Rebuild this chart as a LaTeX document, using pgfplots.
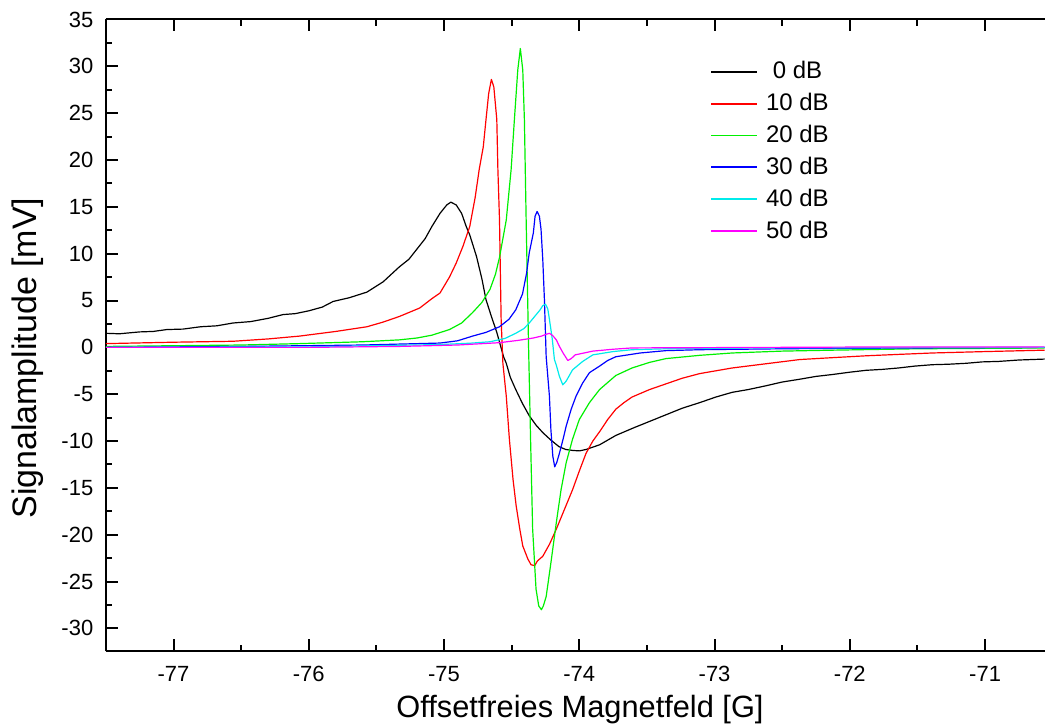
\documentclass[border=0pt]{standalone}
\usepackage{fontspec}
\setmainfont{Liberation Sans}
\usepackage{pgfplots}
\pgfplotsset{compat=1.18}
\definecolor{cBlack}{RGB}{0,0,0}
\definecolor{cRed}{RGB}{255,0,0}
\definecolor{cGreen}{RGB}{0,240,0}
\definecolor{cBlue}{RGB}{0,0,255}
\definecolor{cCyan}{RGB}{0,235,235}
\definecolor{cMag}{RGB}{255,0,255}
\begin{document}
\begin{tikzpicture}
\path (-53pt,-37pt) rectangle (470pt,326pt);
\begin{axis}[
  scale only axis, width=470pt, height=316.25pt,
  xmin=-77.5, xmax=-70.557, ymin=-32.45, ymax=35,
  axis x line*=box, axis y line*=left,
  axis line style={line width=1pt, black},
  every tick/.style={line width=1pt, black},
  tick align=inside,
  major tick length=6pt, minor tick length=3.3pt,
  xtick={-77,-76,-75,-74,-73,-72,-71},
  xticklabels={-77,-76,-75,-74,-73,-72,-71},
  minor x tick num=1,
  ytick={-30,-25,-20,-15,-10,-5,0,5,10,15,20,25,30,35},
  yticklabels={-30,-25,-20,-15,-10,-5,0,5,10,15,20,25,30,35},
  minor y tick num=1,
  ticklabel style={font=\fontsize{11}{13}\selectfont},
  xticklabel shift=3.8pt, yticklabel shift=2.8pt,
  xlabel={Offsetfreies Magnetfeld [G]},
  ylabel={Signalamplitude [mV]},
  xlabel style={font=\fontsize{15.4}{18}\selectfont, at={(axis description cs:0.5048,0)}, anchor=north, inner sep=0pt, yshift=-21.5pt},
  ylabel style={font=\fontsize{17}{20}\selectfont, at={(axis description cs:-0.1,0.464)}, anchor=north, inner sep=0pt},
  legend style={at={(axis description cs:0.6436,0.9333)}, anchor=north west, draw=none, fill=none,
    inner sep=0pt, outer sep=0pt, row sep=5.75pt, column sep=4pt,
    font=\fontsize{12}{14}\selectfont,
    nodes={inner sep=0pt}},
  legend cell align=left,
  legend image code/.code={\draw[#1, line width=0.9pt] (0pt,0pt) -- (23pt,0pt);},
  every axis plot/.append style={line width=0.6pt, line join=round},
]
\addplot[cBlack] coordinates {
(-77.50,1.5) (-77.40,1.45) (-77.25,1.65) (-77.15,1.7) (-77.05,1.9) (-76.93,1.95) (-76.80,2.2) (-76.68,2.3)
(-76.56,2.6) (-76.43,2.75) (-76.30,3.1) (-76.19,3.5) (-76.10,3.6) (-76.00,3.9) (-75.90,4.3)
(-75.82,4.9) (-75.70,5.3) (-75.57,5.9) (-75.45,7.0) (-75.33,8.6) (-75.26,9.4) (-75.20,10.5)
(-75.14,11.6) (-75.09,12.9) (-75.03,14.3) (-74.98,15.2) (-74.95,15.5) (-74.91,15.2)
(-74.87,14.3) (-74.836,12.9) (-74.81,12.0) (-74.76,9.7) (-74.72,7.3) (-74.69,5.1) (-74.65,3.3)
(-74.61,1.6) (-74.56,-1.0) (-74.54,-1.7) (-74.51,-3.2) (-74.47,-4.5) (-74.42,-6.0) (-74.37,-7.3)
(-74.32,-8.3) (-74.27,-9.1) (-74.21,-9.9) (-74.15,-10.6) (-74.10,-10.9) (-74.05,-11.0)
(-74.00,-11.05) (-73.95,-10.9) (-73.85,-10.4) (-73.73,-9.4) (-73.60,-8.6) (-73.48,-7.9) (-73.36,-7.2)
(-73.24,-6.5) (-73.11,-5.9) (-72.99,-5.3) (-72.87,-4.8) (-72.75,-4.5) (-72.62,-4.1) (-72.50,-3.7)
(-72.37,-3.4) (-72.25,-3.1) (-72.13,-2.9) (-72.00,-2.65) (-71.88,-2.45) (-71.76,-2.35) (-71.64,-2.2)
(-71.52,-2.0) (-71.39,-1.85) (-71.27,-1.8) (-71.14,-1.7) (-71.02,-1.55) (-70.90,-1.5) (-70.75,-1.35)
(-70.56,-1.25)
};
\addlegendentry{\hspace{0.28em}0 dB}
\addplot[cRed] coordinates {
(-77.50,0.4) (-77.00,0.55) (-76.56,0.65) (-76.30,0.9) (-76.07,1.2) (-75.80,1.7) (-75.57,2.2)
(-75.45,2.7) (-75.33,3.3) (-75.18,4.2) (-75.09,5.2) (-75.03,5.8) (-74.96,7.5) (-74.91,9.0)
(-74.86,10.8) (-74.81,12.9) (-74.77,16.0) (-74.74,19.0) (-74.71,21.4) (-74.69,24.3)
(-74.67,27.1) (-74.65,28.6) (-74.632,27.8) (-74.61,24.3) (-74.602,19.0) (-74.59,13.6)
(-74.578,3.0) (-74.565,-1.7) (-74.553,-3.4) (-74.54,-5.2) (-74.517,-9.8) (-74.49,-14.1)
(-74.467,-16.9) (-74.44,-19.4) (-74.418,-21.2) (-74.38,-22.6) (-74.357,-23.2) (-74.33,-23.3)
(-74.31,-22.8) (-74.27,-22.3) (-74.22,-21.0) (-74.17,-19.4) (-74.11,-17.3) (-74.05,-15.2)
(-74.00,-13.2) (-73.95,-11.3) (-73.90,-10.0) (-73.85,-9.0) (-73.79,-7.7) (-73.73,-6.6)
(-73.67,-5.9) (-73.61,-5.3) (-73.48,-4.5) (-73.36,-3.9) (-73.24,-3.3) (-73.11,-2.8) (-72.99,-2.5)
(-72.87,-2.2) (-72.62,-1.75) (-72.37,-1.3) (-72.13,-1.1) (-71.88,-0.9) (-71.64,-0.75) (-71.39,-0.6)
(-71.00,-0.45) (-70.56,-0.3)
};
\addlegendentry{10 dB}
\addplot[cGreen] coordinates {
(-77.50,0.1) (-76.50,0.25) (-76.07,0.4) (-75.60,0.6) (-75.33,0.8) (-75.20,1.0) (-75.09,1.3)
(-74.96,1.9) (-74.87,2.6) (-74.79,3.7) (-74.72,4.8) (-74.66,6.2) (-74.62,7.8) (-74.59,9.6)
(-74.54,13.6) (-74.504,19.0) (-74.48,24.3) (-74.455,29.6) (-74.436,31.9) (-74.418,29.6)
(-74.406,24.3) (-74.393,13.6) (-74.375,0.0) (-74.36,-10.0) (-74.345,-19.4) (-74.32,-25.8)
(-74.30,-27.6) (-74.28,-28.0) (-74.266,-27.6) (-74.245,-26.6) (-74.21,-23.0) (-74.17,-18.7)
(-74.135,-15.2) (-74.097,-12.3) (-74.05,-9.8) (-74.00,-7.7) (-73.925,-5.9) (-73.85,-4.5)
(-73.73,-3.0) (-73.61,-2.2) (-73.48,-1.6) (-73.36,-1.2) (-73.11,-0.85) (-72.87,-0.6)
(-72.50,-0.4) (-72.13,-0.3) (-71.50,-0.15) (-70.56,-0.07)
};
\addlegendentry{20 dB}
\addplot[cBlue] coordinates {
(-77.50,0.0) (-76.50,0.1) (-75.60,0.25) (-75.03,0.46) (-74.90,0.7) (-74.79,1.2) (-74.69,1.6) (-74.59,2.2)
(-74.52,3.0) (-74.47,4.0) (-74.42,5.7) (-74.39,7.9) (-74.37,10.1) (-74.34,12.2) (-74.327,14.0)
(-74.312,14.5) (-74.295,14.0) (-74.283,12.6) (-74.27,9.35) (-74.258,5.1) (-74.245,-1.0)
(-74.221,-5.2) (-74.21,-8.8) (-74.196,-11.6) (-74.182,-12.75) (-74.167,-12.3) (-74.147,-11.3)
(-74.12,-9.8) (-74.097,-8.4) (-74.06,-6.6) (-74.024,-5.2) (-73.975,-3.8) (-73.925,-2.7)
(-73.85,-2.0) (-73.79,-1.4) (-73.73,-1.0) (-73.55,-0.6) (-73.36,-0.35) (-73.11,-0.25)
(-72.50,-0.15) (-72.00,-0.1) (-70.56,0.0)
};
\addlegendentry{30 dB}
\addplot[cCyan] coordinates {
(-77.50,0.0) (-76.00,0.05) (-75.03,0.3) (-74.80,0.45) (-74.66,0.6) (-74.55,0.95) (-74.47,1.5)
(-74.41,2.0) (-74.37,2.6) (-74.33,3.3) (-74.29,4.0) (-74.27,4.45) (-74.25,4.6) (-74.233,4.1)
(-74.22,2.9) (-74.20,0.9) (-74.184,-1.3) (-74.17,-1.9) (-74.147,-3.1) (-74.122,-4.0)
(-74.097,-3.6) (-74.05,-2.4) (-73.975,-1.5) (-73.90,-0.8) (-73.75,-0.45) (-73.61,-0.25)
(-73.36,-0.15) (-72.50,-0.05) (-70.56,0.0)
};
\addlegendentry{40 dB}
\addplot[cMag] coordinates {
(-77.50,0.0) (-76.00,0.0) (-75.33,0.1) (-74.90,0.25) (-74.59,0.5) (-74.45,0.75) (-74.34,1.0)
(-74.28,1.2) (-74.245,1.4) (-74.22,1.5) (-74.196,1.25) (-74.17,0.8) (-74.147,0.1) (-74.12,-0.6)
(-74.085,-1.4) (-74.06,-1.2) (-74.03,-0.8) (-73.90,-0.4) (-73.75,-0.2) (-73.61,-0.06)
(-72.00,0.03) (-70.56,0.05)
};
\addlegendentry{50 dB}
\end{axis}
\end{tikzpicture}
\end{document}
